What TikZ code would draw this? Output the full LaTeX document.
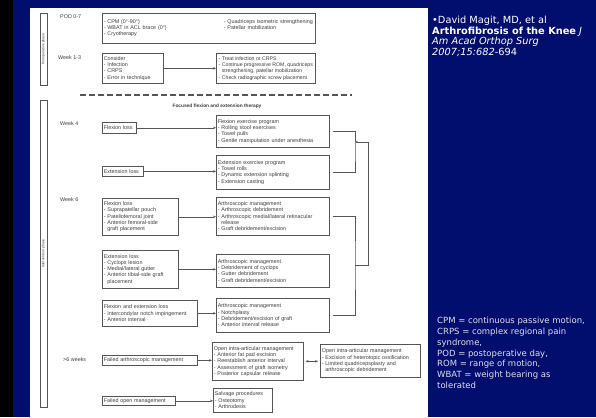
\documentclass[tikz,border=0pt]{standalone}
\usepackage{fontspec}
\setmainfont{Liberation Sans}
\newfontfamily\slidefont{DejaVu Sans}
\usetikzlibrary{arrows.meta}

\definecolor{slideblue}{RGB}{2,14,110}
\definecolor{ink}{RGB}{60,60,60}
\definecolor{rim}{RGB}{85,85,85}
\definecolor{notegray}{RGB}{222,222,236}

\begin{document}
\begin{tikzpicture}[x=1pt,y=-1pt,
	box/.style={draw=rim,line width=.6pt,text=ink,align=left,inner xsep=1.5pt,inner ysep=1pt,anchor=north west,font=\fontsize{5.4}{6.3}\selectfont},
	lbl/.style={text=ink,anchor=west,inner sep=0pt,font=\fontsize{5.4}{6}\selectfont},
	bar/.style={draw=rim,line width=.6pt,rotate=90,minimum height=7pt,inner sep=0pt,text=ink,font=\fontsize{3.5}{4}\selectfont},
	arr/.style={draw=rim,line width=.6pt,-{Stealth[length=3pt,width=2.4pt]}},
	link/.style={draw=rim,line width=.6pt}]

	% slide background
	\useasboundingbox (0,0) rectangle (596,417);
	\fill[slideblue] (0,0) rectangle (596,417);
	\fill[black] (0,0) rectangle (13,417);
	\fill[white] (30,8) rectangle (428,417);

	% phase bars
	\node[bar,minimum width=72pt] (peri) at (43.5,49) {Perioperative phase};
	\node[bar,minimum width=307pt] (inter) at (43.5,253.5) {Intervention phase};

	% row labels
	\node[lbl] (pod) at (60,17) {POD 0-7};
	\node[lbl] (wk13) at (58,58) {Week 1-3};
	\node[lbl] (wk4) at (60,124) {Week 4};
	\node[lbl] (wk6) at (60,200) {Week 6};
	\node[lbl] (wk6p) at (63,360) {>6 weeks};

	% perioperative phase
	\node[box,text width=210pt,minimum height=30pt] (podbox) at (102,13)
		{\begin{tabular}{@{}p{108pt}l@{}}
		- CPM (0°-90°) & - Quadriceps isometric strengthening\\
		- WBAT in ACL brace (0°) & - Patellar mobilization\\
		- Cryotherapy &
		\end{tabular}};
	\node[box,text width=58pt,minimum height=30pt] (consider) at (102,53)
		{Consider\\- Infection\\- CRPS\\- Error in technique};
	\node[box,minimum width=99pt,minimum height=30pt,font=\fontsize{5.2}{6.3}\selectfont] (treat) at (216,53)
		{- Treat infection or CRPS\\- Continue progressive ROM, quadriceps\\\hphantom{- }strengthening, patellar mobilization\\- Check radiographic screw placement};
	\draw[arr] (consider.east) -- (consider.east -| treat.west);

	\draw[rim,line width=2.4pt,dash pattern=on 6pt off 3pt] (80,95) -- (352,95);
	\node[lbl,anchor=center,font=\bfseries\fontsize{4.8}{5}\selectfont] (focus) at (217,106) {Focused flexion and extension therapy};

	% week 4
	\node[box,text width=31pt,minimum height=11pt] (flexA) at (102,122) {Flexion loss};
	\node[box,text width=110pt,minimum height=32pt] (flexprog) at (216,115)
		{Flexion exercise program\\- Rolling stool exercises\\- Towel pulls\\- Gentle manipulation under anesthesia};
	\node[box,text width=38pt,minimum height=10pt] (extA) at (102,166) {Extension loss};
	\node[box,text width=110pt,minimum height=34pt] (extprog) at (216,155)
		{Extension exercise program\\- Towel rolls\\- Dynamic extension splinting\\- Extension casting};
	\draw[arr] (flexA.east) -- (flexA.east -| flexprog.west);
	\draw[arr] (extA.east) -- (extA.east -| extprog.west);

	% week 6
	\node[box,text width=73pt,minimum height=37pt] (flexB) at (102,198)
		{Flexion loss\\- Suprapatellar pouch\\- Patellofemoral joint\\- Anterior femoral-side\\\hphantom{- }graft placement};
	\node[box,text width=110pt,minimum height=38pt] (arthA) at (216,197)
		{Arthroscopic management\\- Arthroscopic debridement\\- Arthroscopic medial/lateral retinacular\\\hphantom{- }release\\- Graft debridement/excision};
	\node[box,text width=73pt,minimum height=38pt] (extB) at (102,250)
		{Extension loss\\- Cyclops lesion\\- Medial/lateral gutter\\- Anterior tibial-side graft\\\hphantom{- }placement};
	\node[box,text width=110pt,minimum height=33pt] (arthB) at (216,254)
		{Arthroscopic management\\- Debridement of cyclops\\- Gutter debridement\\- Graft debridement/excision};
	\node[box,text width=92pt,minimum height=26pt] (bothC) at (102,300)
		{Flexion and extension loss\\- Intercondylar notch impingement\\- Anterior interval};
	\node[box,text width=110pt,minimum height=34pt] (arthC) at (216,298)
		{Arthroscopic management\\- Notchplasty\\- Debridement/excision of graft\\- Anterior interval release};
	\draw[arr] (flexB.east) -- (flexB.east -| arthA.west);
	\draw[arr] (extB.east) -- (extB.east -| arthB.west);
	\draw[arr] (bothC.east) -- (bothC.east -| arthC.west);

	% feedback brackets
	\coordinate (brA) at (355,151);
	\coordinate (brB) at (355,265);
	\coordinate (back) at (368,142);
	\draw[link] ([xshift=3pt]flexprog.east) -| (brA) |- ([xshift=3pt]extprog.east);
	\draw[link] ([xshift=3pt]arthA.east) -| (brB) |- ([xshift=3pt]arthC.east);
	\draw[arr] (brB) -| (back) -- (back -| brA);

	% beyond 6 weeks
	\node[box,text width=92pt,minimum height=10pt] (failarth) at (102,355) {Failed arthroscopic management};
	\node[box,text width=88pt,minimum height=38pt] (openA) at (212,342)
		{Open intra-articular management\\- Anterior fat pad excision\\- Reestablish anterior interval\\- Assessment of graft isometry\\- Posterior capsular release};
	\node[box,text width=97pt,minimum height=33pt] (openB) at (320,344)
		{Open intra-articular management\\- Excision of heterotopic ossification\\- Limited quadricepsplasty and\\\hphantom{- }arthroscopic debridement};
	\node[box,text width=70pt,minimum height=9pt] (failopen) at (102,396) {Failed open management};
	\node[box,text width=56pt,minimum height=24pt] (salvage) at (213,388)
		{Salvage procedures\\- Osteotomy\\- Arthrodesis};
	\draw[arr] (failarth.east) -- (failarth.east -| openA.west);
	\draw[{Stealth[length=3pt,width=2.4pt]}-{Stealth[length=3pt,width=2.4pt]},rim,line width=.6pt] ([xshift=2pt]openA.east) -- ([xshift=-2pt]openA.east -| openB.west);
	\draw[arr] (failopen.east) -- (failopen.east -| salvage.west);

	% slide notes
	\node[anchor=north west,inner sep=0pt,align=left,text=white,font=\slidefont\fontsize{9.8}{10.5}\selectfont] (cite) at (432,16)
		{•David Magit, MD, et al\\\textbf{Arthrofibrosis of the Knee} \textit{J}\\\textit{Am Acad Orthop Surg}\\\textit{2007;15:682}-694};
	\node[anchor=north west,inner sep=0pt,align=left,text=notegray,font=\slidefont\fontsize{8.5}{10.8}\selectfont] (abbr) at (437,317)
		{CPM = continuous passive motion,\\CRPS = complex regional pain\\syndrome,\\POD = postoperative day,\\ROM = range of motion,\\WBAT = weight bearing as\\tolerated};
\end{tikzpicture}
\end{document}
